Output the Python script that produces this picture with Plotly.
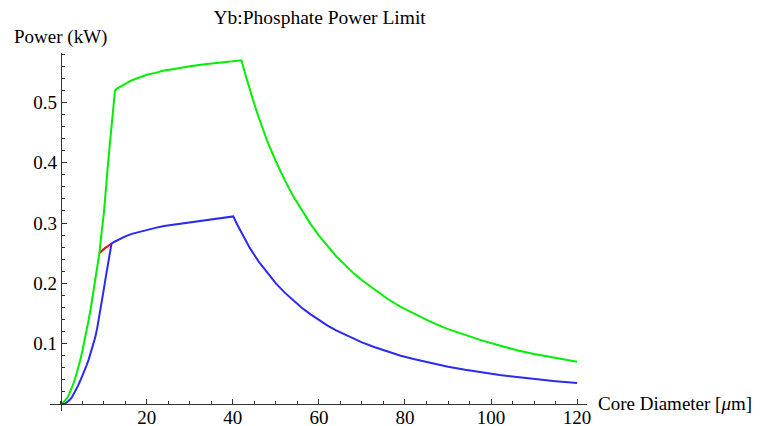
#Yb:Phosphate power limit vs core diameter

#import libraries
import plotly.graph_objects as go


"""Data read from the plot"""
# green curve
green_x = [0.3, 1, 1.5, 2, 2.5, 3, 3.5, 4, 4.5, 5, 5.5, 6, 6.5, 7, 7.5, 8, 8.5, 9, 9.5, 10, 11, 12, 12.6,
           13, 14, 15, 16, 17, 18, 20, 22, 24, 26, 28, 30, 33, 36, 39, 42,
           43, 44, 45, 46, 48, 50, 52, 54, 56, 58, 60, 62, 64, 66, 68, 70, 73, 76, 79, 82, 86,
           90, 94, 98, 102, 106, 110, 115, 120]
green_y = [0, 0.005, 0.010, 0.017, 0.025, 0.035, 0.046, 0.058, 0.072, 0.087, 0.103, 0.121, 0.140,
           0.160, 0.181, 0.203, 0.226, 0.251, 0.285, 0.315, 0.40, 0.475, 0.520,
           0.5225, 0.527, 0.531, 0.535, 0.538, 0.541, 0.546, 0.549, 0.553, 0.555, 0.558, 0.560,
           0.563, 0.565, 0.568, 0.570,
           0.544, 0.519, 0.497, 0.475, 0.436, 0.402, 0.372, 0.345, 0.321, 0.299, 0.279, 0.262,
           0.245, 0.231, 0.217, 0.205, 0.189, 0.174, 0.161, 0.150, 0.136, 0.124, 0.114, 0.105,
           0.097, 0.089, 0.083, 0.076, 0.070]

# blue curve
blue_x = [0.9, 1.5, 2, 2.5, 3, 3.5, 4, 4.5, 5, 5.5, 6, 6.5, 7, 7.5, 8, 8.5, 9, 9.5, 10, 10.5, 11, 11.8,
          12.5, 13.5, 15, 16.5, 18, 20, 22, 24, 26, 28, 30, 33, 36, 40.1,
          41, 42, 43, 44, 46, 48, 50, 52, 54, 56, 58, 60, 62, 64, 66, 68, 70, 73, 76, 79, 82, 86,
          90, 94, 98, 102, 106, 110, 115, 120]
blue_y = [0, 0.003, 0.006, 0.010, 0.016, 0.022, 0.030, 0.038, 0.046, 0.055, 0.064, 0.074, 0.085,
          0.097, 0.110, 0.127, 0.146, 0.167, 0.190, 0.212, 0.234, 0.266,
          0.269, 0.273, 0.278, 0.282, 0.285, 0.289, 0.292, 0.295, 0.297, 0.300, 0.302, 0.305,
          0.308, 0.311,
          0.2975, 0.2835, 0.2705, 0.258, 0.236, 0.217, 0.200, 0.185, 0.1715, 0.1595, 0.149, 0.139,
          0.130, 0.122, 0.115, 0.108, 0.102, 0.094, 0.0866, 0.080, 0.0744, 0.0676, 0.0617, 0.0566,
          0.0521, 0.0481, 0.0445, 0.0413, 0.0378, 0.0347]

# red curve (only the short visible piece)
red_x = [8.9, 9.5, 10.2, 11, 11.8]
red_y = [0.250, 0.254, 0.258, 0.262, 0.266]

x_ticks = [20, 40, 60, 80, 100, 120]
y_ticks = [0.1, 0.2, 0.3, 0.4, 0.5]

TITLE = "Yb:Phosphate Power Limit"
X_TITLE = "Core Diameter [<i>μ</i>m]"
Y_TITLE = "Power (kW)"

FONT = "Liberation Serif, Times New Roman, serif"
AXIS_COLOR = "#333333"
X_RANGE = [-2.5, 122.3]
Y_RANGE = [-0.0117, 0.582]


fig = go.Figure()
fig.add_trace(go.Scatter(x=red_x, y=red_y, mode="lines", line=dict(color="#ff0000", width=2)))
fig.add_trace(go.Scatter(x=green_x, y=green_y, mode="lines", line=dict(color="#00ee00", width=2)))
fig.add_trace(go.Scatter(x=blue_x, y=blue_y, mode="lines", line=dict(color="#2a2af0", width=2)))

# axes cross at the origin like the original
x_pos = (0 - Y_RANGE[0]) / (Y_RANGE[1] - Y_RANGE[0])
y_pos = (0 - X_RANGE[0]) / (X_RANGE[1] - X_RANGE[0])

fig.update_xaxes(range=X_RANGE, anchor="free", position=x_pos, showline=True, linecolor=AXIS_COLOR,
                 linewidth=1, showgrid=False, zeroline=False, tickvals=x_ticks, ticks="inside",
                 ticklen=5, tickcolor=AXIS_COLOR, automargin=False, ticklabelstandoff=-4,
                 minor=dict(ticks="inside", ticklen=3, dtick=5, tick0=0, tickcolor=AXIS_COLOR, showgrid=False),
                 tickfont=dict(family=FONT, size=19, color="black"))
fig.update_yaxes(range=Y_RANGE, anchor="free", position=y_pos, showline=True, linecolor=AXIS_COLOR,
                 linewidth=1, showgrid=False, zeroline=False, tickvals=y_ticks, ticks="inside",
                 ticklen=5, tickcolor=AXIS_COLOR, automargin=False,
                 minor=dict(ticks="inside", ticklen=3, dtick=0.02, tick0=0, tickcolor=AXIS_COLOR, showgrid=False),
                 tickfont=dict(family=FONT, size=19, color="black"))

fig.update_layout(
    width=761, height=426,
    margin=dict(l=50, r=174, t=53, b=15, autoexpand=False),
    plot_bgcolor="white", paper_bgcolor="white",
    showlegend=False,
    title=dict(text=TITLE, x=0.42, xanchor="center", y=0.96, yanchor="middle",
               font=dict(family=FONT, size=19.5, color="black")),
    font=dict(family=FONT, color="black"),
)

fig.add_annotation(text=Y_TITLE, xref="paper", yref="paper", x=-0.0708, y=1.045,
                   xanchor="left", yanchor="middle", showarrow=False,
                   font=dict(family=FONT, size=19, color="black"))
fig.add_annotation(text=X_TITLE, xref="paper", yref="paper", x=1.0168, y=x_pos,
                   xanchor="left", yanchor="middle", showarrow=False,
                   font=dict(family=FONT, size=19, color="black"))

# drop the default page margin so the figure sits at the window corner
fig.write_html("out.html", config={"displayModeBar": False},
               post_script="document.body.style.margin='0';")
